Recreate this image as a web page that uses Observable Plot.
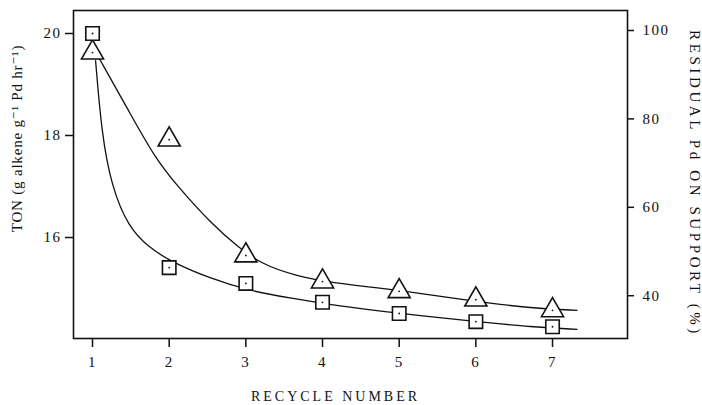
<!DOCTYPE html>
<html><head><meta charset="utf-8">
<script src="https://cdn.jsdelivr.net/npm/d3@7"></script>
<script src="https://cdn.jsdelivr.net/npm/@observablehq/plot@0.6"></script>
<style>
body{margin:0;background:#fff;}
</style>
</head><body><div id="chart"></div>
<script>
// ---- data ----
const recycle = [1, 2, 3, 4, 5, 6, 7];
// squares: TON (left axis)
const tonValues = [20.0, 15.41, 15.10, 14.73, 14.51, 14.35, 14.25];
// triangles: residual Pd on support, % (right axis)
const residualValues = [95.0, 75.3, 49.1, 43.2, 41.0, 39.1, 36.7];
// fitted curves
const tonCurveX = [1.04, 1.12, 1.25, 1.47, 1.73, 2.03, 2.55, 3.03, 3.63, 4.15, 5.02, 5.90, 6.76, 7.32];
const tonCurveY = [19.47, 18.03, 16.99, 16.20, 15.81, 15.52, 15.19, 14.96, 14.80, 14.67, 14.51, 14.37, 14.24, 14.20];
const resCurveX = [1.09, 1.47, 1.81, 2.12, 2.55, 2.90, 3.20, 3.63, 4.07, 4.50, 5.02, 5.90, 6.76, 7.32];
const resCurveY = [93.6, 81.9, 71.3, 64.5, 56.3, 51.0, 47.2, 44.6, 43.1, 42.2, 41.2, 38.9, 37.1, 36.7];
// ticks
const xTicks = [1, 2, 3, 4, 5, 6, 7];
const leftTicks = [16, 18, 20];
const rightTicks = [40, 60, 80, 100];
const xLabel = "RECYCLE NUMBER";
const leftLabel = "TON (g alkene g\u207B\u00B9 Pd hr\u207B\u00B9)";
const rightLabel = "RESIDUAL Pd ON SUPPORT (%)";

// right axis (%) expressed in left-axis (TON) units
const toLeft = p => 11.392 + 0.08667 * p;
const fromLeft = t => (t - 11.392) / 0.08667;

const squares = recycle.map((x, i) => ({x, y: tonValues[i]}));
const triangles = recycle.map((x, i) => ({x, y: toLeft(residualValues[i])}));
const tonCurve = tonCurveX.map((x, i) => ({x, y: tonCurveY[i]}));
const resCurve = resCurveX.map((x, i) => ({x, y: toLeft(resCurveY[i])}));

const ink = "#111";
const plot = Plot.plot({
  width: 702,
  height: 405,
  marginLeft: 73,
  marginRight: 75,
  marginTop: 10,
  marginBottom: 67,
  x: {domain: [0.752, 7.978]},
  y: {domain: [14.02, 20.451]},
  style: {fontFamily: "'Liberation Serif', 'DejaVu Serif', serif", fontSize: "15px", color: ink, background: "#fff"},
  marks: [
    Plot.frame({stroke: ink, strokeWidth: 1.6}),
    Plot.axisX(xTicks, {tickSize: 9, tickPadding: 9, strokeWidth: 1.5, label: null, fontSize: 15, tickFormat: d => String(d)}),
    Plot.axisY(leftTicks, {anchor: "left", tickSize: 8, tickPadding: 4, strokeWidth: 1.5, label: null, fontSize: 15, tickFormat: d => String(d)}),
    Plot.axisY(rightTicks.map(toLeft), {anchor: "right", tickSize: 6, tickPadding: 9, strokeWidth: 1.5, label: null, fontSize: 15,
      tickFormat: d => String(Math.round(fromLeft(d)))}),
    Plot.line(resCurve, {x: "x", y: "y", curve: "basis", stroke: ink, strokeWidth: 1.3}),
    Plot.line(tonCurve, {x: "x", y: "y", curve: "basis", stroke: ink, strokeWidth: 1.3}),
    Plot.dot(triangles, {x: "x", y: "y", symbol: "triangle", r: 8.2, fill: "#fff", stroke: ink, strokeWidth: 1.6}),
    Plot.dot(squares, {x: "x", y: "y", symbol: "square", r: 7.6, fill: "#fff", stroke: ink, strokeWidth: 1.6}),
    Plot.dot(triangles, {x: "x", y: "y", r: 0.9, fill: ink, stroke: null}),
    Plot.dot(squares, {x: "x", y: "y", r: 0.9, fill: ink, stroke: null}),
    Plot.text([xLabel], {text: d => d, frameAnchor: "bottom", textAnchor: "middle", lineAnchor: "middle", dx: -15, dy: 58, fontSize: 14}),
    Plot.text([leftLabel], {text: d => d, frameAnchor: "left", textAnchor: "middle", lineAnchor: "middle", rotate: -90, dx: -56, dy: -36, fontSize: 15}),
    Plot.text([rightLabel], {text: d => d, frameAnchor: "right", textAnchor: "middle", lineAnchor: "middle", rotate: 90, dx: 67, dy: 9, fontSize: 15})
  ]
});

// letter spacing to mimic the spaced lettering of the scan
d3.select(plot).selectAll("text").each(function() {
  const t = this.textContent;
  let ls = "1.5px";
  if (t === xLabel) ls = "3px";
  else if (t === rightLabel) ls = "3.6px";
  else if (t === leftLabel) ls = "0.8px";
  this.style.letterSpacing = ls;
});

document.getElementById("chart").append(plot);
</script>
</body></html>
